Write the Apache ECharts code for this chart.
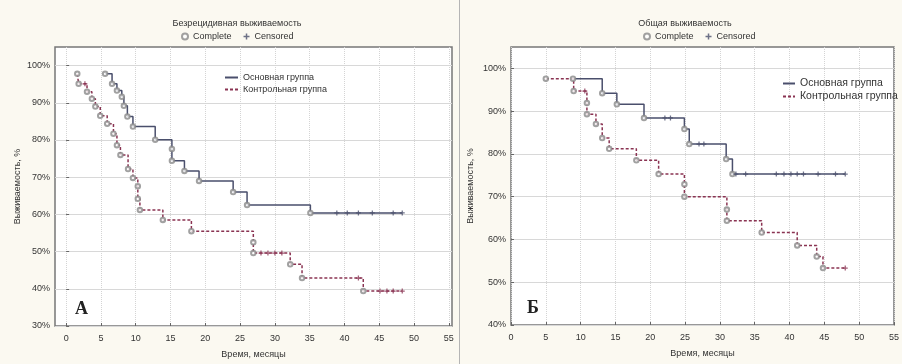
<!DOCTYPE html>
<html><head><meta charset="utf-8">
<script src="https://cdn.jsdelivr.net/npm/echarts@6/dist/echarts.min.js"></script>
<style>html,body{margin:0;padding:0;background:#fbf9f1;}#c{width:902px;height:364px;}</style>
</head><body><div id="c"></div>
<script>
// ---- data ----
const xTicks = [0, 5, 10, 15, 20, 25, 30, 35, 40, 45, 50, 55];
const yTicksA = [30, 40, 50, 60, 70, 80, 90, 100];
const yTicksB = [40, 50, 60, 70, 80, 90, 100];

// Panel A: Безрецидивная выживаемость
const mainA_t = [5.6, 6.6, 7.3, 8.0, 8.3, 8.8, 9.6, 12.8, 15.2, 15.2, 17.0, 19.1, 24.0, 26.0, 35.1];
const mainA_v = [97.8, 95.1, 93.3, 91.6, 89.2, 86.3, 83.6, 80.1, 77.6, 74.4, 71.7, 69.0, 66.0, 62.5, 60.4];
const mainA_cens = [38.9, 40.4, 42.0, 44.0, 47.0, 48.3];
const ctrlA_t = [1.6, 1.8, 3.0, 3.7, 4.2, 4.9, 5.9, 6.8, 7.3, 7.8, 8.9, 9.6, 10.3, 10.3, 10.6, 13.9, 18.0, 26.9, 26.9, 32.2, 33.9, 42.7];
const ctrlA_v = [97.8, 95.1, 93.0, 91.1, 89.0, 86.5, 84.4, 81.7, 78.6, 76.0, 72.2, 69.8, 67.6, 64.2, 61.2, 58.5, 55.5, 52.5, 49.6, 46.6, 42.9, 39.4];
const ctrlA_cens = [2.7, 28.0, 29.0, 30.0, 31.0, 42.0, 45.1, 46.1, 47.0, 48.3];

// Panel Б: Общая выживаемость
const mainB_t = [8.9, 13.1, 15.2, 19.1, 24.9, 25.6, 30.9, 31.8];
const mainB_v = [97.6, 94.2, 91.6, 88.4, 85.8, 82.3, 78.8, 75.3];
const mainB_cens = [22.1, 22.9, 27.0, 27.7, 32.3, 33.7, 38.1, 39.2, 40.2, 41.1, 42.0, 44.1, 46.6, 48.0];
const ctrlB_t = [5.0, 9.0, 10.9, 10.9, 12.2, 13.1, 14.1, 18.0, 21.2, 24.9, 24.9, 31.0, 31.0, 36.0, 41.1, 43.9, 44.8];
const ctrlB_v = [97.6, 94.7, 91.9, 89.3, 87.0, 83.7, 81.2, 78.5, 75.3, 72.9, 70.0, 67.0, 64.4, 61.6, 58.6, 56.0, 53.3];
const ctrlB_cens = [10.6, 48.0];

const titles = ['Безрецидивная выживаемость', 'Общая выживаемость'];
const groupNames = ['Основная группа', 'Контрольная группа'];
const markNames = ['Complete', 'Censored'];
const xName = 'Время, месяцы';
const yName = 'Выживаемость, %';
const panelLetters = ['А', 'Б'];

// ---- helpers ----
function stepData(t, v, cens) {
  const d = t.map((x, i) => [x, v[i]]);
  const last = Math.max(t[t.length - 1], cens.length ? cens[cens.length - 1] : 0);
  d.push([last, v[v.length - 1]]);
  return d;
}
function lookup(t, v, tc) {
  let val = v[0];
  for (let i = 0; i < t.length; i++) if (t[i] <= tc) val = v[i];
  return val;
}
function censData(t, v, cens) { return cens.map(c => [c, lookup(t, v, c)]); }
function eventData(t, v) { return t.map((x, i) => [x, v[i]]); }

const FONT = 'Liberation Sans, Arial, sans-serif';
const MAIN = '#4a4f6c';
const CTRL = '#8a3352';
const CIRC = '#8a8a8a';
const PLUS = 'path://M3,0H5V3H8V5H5V8H3V5H0V3H3Z';

function groupSeries(idx, t, v, cens, color, dashed) {
  return [
    { name: groupNames[dashed ? 1 : 0], type: 'line', step: 'end', xAxisIndex: idx, yAxisIndex: idx,
      data: stepData(t, v, cens), symbol: 'none', showSymbol: false, z: 3,
      lineStyle: { color: color, width: 1.5, type: dashed ? [3, 2] : 'solid' }, itemStyle: { color: color } },
    { name: markNames[0], type: 'scatter', xAxisIndex: idx, yAxisIndex: idx, data: eventData(t, v),
      symbol: 'emptyCircle', symbolSize: 4.5, z: 4,
      itemStyle: { color: CIRC, borderColor: CIRC, borderWidth: 1 } },
    { name: markNames[1], type: 'scatter', xAxisIndex: idx, yAxisIndex: idx, data: censData(t, v, cens),
      symbol: PLUS, symbolSize: 5, z: 4, itemStyle: { color: color } }
  ];
}

function xAxis(idx, min, max) {
  return { type: 'value', gridIndex: idx, min: min, max: max,
    name: xName, nameLocation: 'middle', nameGap: 24,
    nameTextStyle: { fontFamily: FONT, fontSize: 9, color: '#333' },
    axisLine: { show: false },
    axisTick: { show: true, inside: true, length: 3, customValues: xTicks, lineStyle: { color: '#666' } },
    axisLabel: { customValues: xTicks, fontFamily: FONT, fontSize: 9, color: '#333', margin: 8 },
    splitLine: { show: true, lineStyle: { color: '#d4d4d4', width: 1, type: [1, 1] } } };
}
function yAxis(idx, min, max, ticks, gap) {
  return { type: 'value', gridIndex: idx, min: min, max: max,
    name: yName, nameLocation: 'middle', nameGap: gap,
    nameTextStyle: { fontFamily: FONT, fontSize: 9, color: '#333' },
    axisLine: { show: false },
    axisTick: { show: true, inside: true, length: 3, customValues: ticks, lineStyle: { color: '#666' } },
    axisLabel: { customValues: ticks, formatter: '{value}%', fontFamily: FONT, fontSize: 9, color: '#333', margin: 5 },
    splitLine: { show: true, lineStyle: { color: '#d8d8d8', width: 1 } } };
}

const groupLegendItemStyle = { color: 'transparent', borderColor: 'transparent', borderWidth: 0 };

const chart = echarts.init(document.getElementById('c'), null, { renderer: 'canvas' });
chart.setOption({
  backgroundColor: '#fbf9f1',
  animation: false,
  title: [
    { text: titles[0], left: 232, top: 14, textAlign: 'center',
      textStyle: { fontFamily: FONT, fontSize: 9, fontWeight: 'normal', color: '#333' } },
    { text: titles[1], left: 680, top: 14, textAlign: 'center',
      textStyle: { fontFamily: FONT, fontSize: 9, fontWeight: 'normal', color: '#333' } }
  ],
  legend: [
    { data: markNames, left: 176, top: 27, itemWidth: 6, itemHeight: 6, itemGap: 12, selectedMode: false,
      textStyle: { fontFamily: FONT, fontSize: 9, color: '#333' } },
    { data: markNames, left: 638, top: 27, itemWidth: 6, itemHeight: 6, itemGap: 12, selectedMode: false,
      textStyle: { fontFamily: FONT, fontSize: 9, color: '#333' } },
    { data: groupNames, left: 219, top: 68, orient: 'vertical', itemWidth: 13, itemHeight: 6, itemGap: 3, selectedMode: false,
      itemStyle: groupLegendItemStyle,
      textStyle: { fontFamily: FONT, fontSize: 9, color: '#333' } },
    { data: groupNames, left: 777, top: 73, orient: 'vertical', itemWidth: 12, itemHeight: 6, itemGap: 2, selectedMode: false,
      itemStyle: groupLegendItemStyle,
      textStyle: { fontFamily: FONT, fontSize: 10.5, color: '#333' } }
  ],
  grid: [
    { left: 55, top: 47, width: 397, height: 280, show: true, backgroundColor: '#ffffff', borderColor: '#777', borderWidth: 1.5 },
    { left: 511, top: 47, width: 394, height: 278, show: true, backgroundColor: '#ffffff', borderColor: '#777', borderWidth: 1.5 }
  ],
  xAxis: [ xAxis(0, -1.6, 55.45), xAxis(1, 0, 55) ],
  yAxis: [ yAxis(0, 30, 105, yTicksA, 33), yAxis(1, 40, 105, yTicksB, 36) ],
  graphic: [
    { type: 'line', shape: { x1: 459.5, y1: 0, x2: 459.5, y2: 364 }, style: { stroke: '#b5b5b5', lineWidth: 1 } },
    { type: 'text', left: 75, top: 300, style: { text: panelLetters[0], font: 'bold 18px "Liberation Serif", serif', fill: '#222' } },
    { type: 'text', left: 527, top: 299, style: { text: panelLetters[1], font: 'bold 18px "Liberation Serif", serif', fill: '#222' } }
  ],
  series: [].concat(
    groupSeries(0, mainA_t, mainA_v, mainA_cens, MAIN, false),
    groupSeries(0, ctrlA_t, ctrlA_v, ctrlA_cens, CTRL, true),
    groupSeries(1, mainB_t, mainB_v, mainB_cens, MAIN, false),
    groupSeries(1, ctrlB_t, ctrlB_v, ctrlB_cens, CTRL, true)
  )
});
</script></body></html>
